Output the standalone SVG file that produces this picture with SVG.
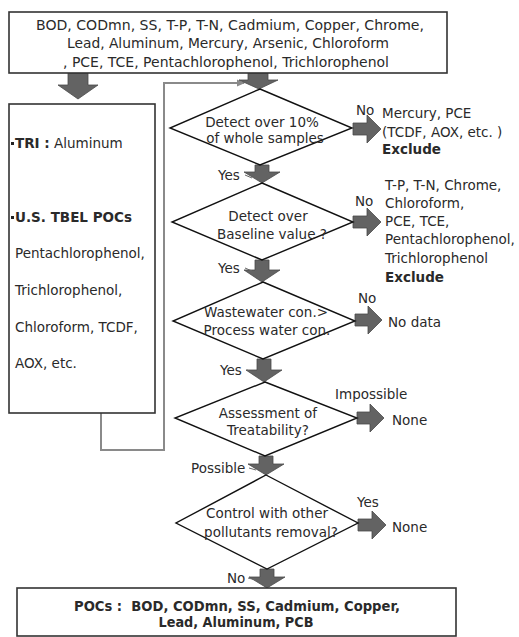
<svg xmlns="http://www.w3.org/2000/svg" width="519" height="637" viewBox="0 0 519 637">
<defs>
<style>
text{font-family:"DejaVu Sans","Liberation Sans",sans-serif;font-size:13.5px;fill:#2a2a2a;}
.c{text-anchor:middle;}
.b{font-weight:bold;}
.box{fill:#fff;stroke:#333;stroke-width:1.6;}
.dia{fill:#fff;stroke:#111;stroke-width:1.4;}
.blk{fill:#636363;stroke:#4a4a4a;stroke-width:0.8;}
.fb{fill:none;stroke:#8a8a8a;stroke-width:2;}
.lead{stroke:#666;stroke-width:1;}
</style>
<marker id="ah" markerWidth="8" markerHeight="8" refX="7" refY="4" orient="auto" markerUnits="userSpaceOnUse">
<path d="M0,0.5 L8,4 L0,7.5 z" fill="#8a8a8a"/>
</marker>
</defs>
<rect width="519" height="637" fill="#fff"/>

<g id="connectors">
<path class="fb" d="M101,413 V450 H164 V83 H244" marker-end="url(#ah)"/>
<path class="blk" d="M68,73 H88 V85 H98 L78,99 L58,85 H68 Z"/>
<path class="blk" d="M248,73 H268 V80 H278 L259,89 L239,80 H248 Z"/>
<path class="blk" d="M255,165 H269 V172 H280 L262,183 L244,172 H255 Z"/>
<path class="blk" d="M255,260 H269 V270 H280 L262,282 L244,270 H255 Z"/>
<path class="blk" d="M257,359 H271 V370 H282 L264,382 L246,370 H257 Z"/>
<path class="blk" d="M259,456 H273 V464 H284 L266,475 L248,464 H259 Z"/>
<path class="blk" d="M260,569 H274 V577 H285 L267,588 L249,577 H260 Z"/>
<path class="blk" d="M353,123 H367 V115 L381,129 L367,143 V135 H353 Z"/>
<path class="blk" d="M353,216 H367 V208 L381,222 L367,236 V228 H353 Z"/>
<path class="blk" d="M355,314 H368 V306 L382,320 L368,334 V326 H355 Z"/>
<path class="blk" d="M357,412 H370 V404 L384,418 L370,432 V424 H357 Z"/>
<path class="blk" d="M358,519 H372 V511 L386,525 L372,539 V531 H358 Z"/>
<line class="lead" x1="245" y1="175" x2="252" y2="178"/>
<line class="lead" x1="245" y1="268" x2="252" y2="271"/>
<line class="lead" x1="247" y1="370" x2="254" y2="373"/>
<line class="lead" x1="249" y1="468" x2="256" y2="470"/>
<line class="lead" x1="248" y1="578" x2="256" y2="580"/>
<text x="218" y="180">Yes</text>
<text x="218" y="273">Yes</text>
<text x="220" y="375">Yes</text>
<text x="191" y="473">Possible</text>
<text x="227" y="583">No</text>
<text x="356" y="115">No</text>
<text x="355" y="206">No</text>
<text x="358" y="303">No</text>
<text x="335" y="399">Impossible</text>
<text x="357" y="507">Yes</text>
</g>

<g id="top-box">
<rect class="box" x="9" y="12" width="438" height="61"/>
<text class="c" x="230" y="30" textLength="388" lengthAdjust="spacingAndGlyphs">BOD, CODmn, SS, T-P, T-N, Cadmium, Copper, Chrome,</text>
<text class="c" x="228" y="48" textLength="322" lengthAdjust="spacingAndGlyphs">Lead, Aluminum, Mercury, Arsenic, Chloroform</text>
<text class="c" x="226" y="67" textLength="326" lengthAdjust="spacingAndGlyphs">, PCE, TCE, Pentachlorophenol, Trichlorophenol</text>
</g>

<g id="left-box">
<rect class="box" x="9" y="104" width="146" height="309"/>
<rect x="11" y="142" width="3" height="3" fill="#222"/>
<text x="15" y="148"><tspan class="b">TRI :</tspan> Aluminum</text>
<rect x="11" y="216" width="3" height="3" fill="#222"/>
<text x="15" y="222" class="b">U.S. TBEL POCs</text>
<text x="15" y="258">Pentachlorophenol,</text>
<text x="15" y="295">Trichlorophenol,</text>
<text x="15" y="332">Chloroform, TCDF,</text>
<text x="15" y="368">AOX, etc.</text>
</g>

<g id="d1">
<polygon class="dia" points="260,89 352,128 260,165 170,128"/>
<text class="c" x="262" y="127">Detect over 10%</text>
<text class="c" x="265" y="143">of whole samples</text>
</g>

<g id="d2">
<polygon class="dia" points="262,183 353,222 262,260 172,222"/>
<text class="c" x="268" y="221">Detect over</text>
<text class="c" x="272" y="239">Baseline value ?</text>
</g>

<g id="d3">
<polygon class="dia" points="263,282 355,321 263,359 173,321"/>
<text class="c" x="266" y="317">Wastewater con.&gt;</text>
<text class="c" x="267" y="335">Process water con.</text>
</g>

<g id="d4">
<polygon class="dia" points="265,382 357,418 265,456 175,418"/>
<text class="c" x="268" y="418">Assessment of</text>
<text class="c" x="268" y="435">Treatability?</text>
</g>

<g id="d5">
<polygon class="dia" points="266,475 358,523 267,569 176,523"/>
<text class="c" x="267" y="518">Control with other</text>
<text class="c" x="271" y="537">pollutants removal?</text>
</g>

<g id="out1">
<text x="382" y="118">Mercury, PCE</text>
<text x="382" y="137">(TCDF, AOX, etc. )</text>
<text x="382" y="154" class="b">Exclude</text>
</g>

<g id="out2">
<text x="385" y="190">T-P, T-N, Chrome,</text>
<text x="385" y="208">Chloroform,</text>
<text x="385" y="226">PCE, TCE,</text>
<text x="385" y="244">Pentachlorophenol,</text>
<text x="385" y="263">Trichlorophenol</text>
<text x="385" y="282" class="b">Exclude</text>
</g>

<g id="out3">
<text x="388" y="327">No data</text>
</g>

<g id="out4">
<text x="392" y="425">None</text>
</g>

<g id="out5">
<text x="392" y="532">None</text>
</g>

<g id="bottom-box">
<rect class="box" x="17" y="588" width="439" height="48"/>
<text class="c b" x="237" y="611" style="white-space:pre" textLength="326" lengthAdjust="spacingAndGlyphs">POCs :  BOD, CODmn, SS, Cadmium, Copper,</text>
<text class="c b" x="236" y="627" textLength="155" lengthAdjust="spacingAndGlyphs">Lead, Aluminum, PCB</text>
</g>
</svg>
